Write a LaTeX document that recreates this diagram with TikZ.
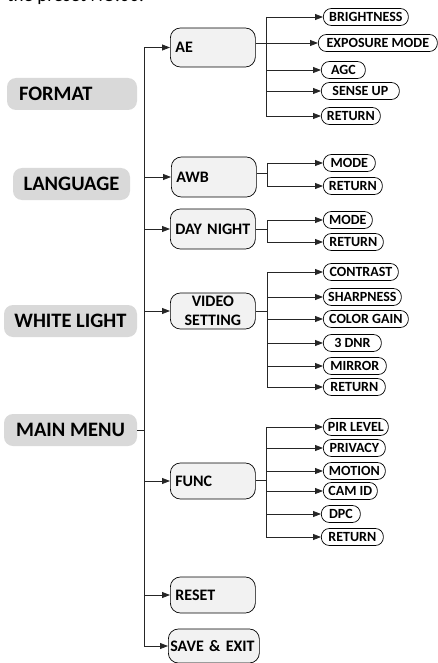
\documentclass[tikz,border=0pt]{standalone}
\usepackage{fontspec}
\setmainfont{Carlito}
\usetikzlibrary{arrows.meta}
\begin{document}
\begin{tikzpicture}[x=1pt,y=-1pt,
 line/.style={draw=black!85, line width=0.8pt},
 arr/.style={line, -{Triangle[length=8pt,width=6pt]}},
 leftbox/.style={fill=black!15, rounded corners=9pt, minimum width=118pt, minimum height=32pt, font=\fontsize{20.5}{23}\selectfont\bfseries, inner sep=0pt},
 midbox/.style={draw=black, line width=0.7pt, fill=black!5, rounded corners=10pt, font=\fontsize{16}{18}\selectfont\bfseries, text width=75pt, inner xsep=5pt, inner ysep=0pt, align=left, minimum height=38pt, anchor=west},
 pill/.style={draw=black, line width=0.7pt, fill=white, rounded corners=8pt, font=\fontsize{14}{15}\selectfont\bfseries, inner xsep=2pt, inner ysep=0pt, minimum height=17pt, anchor=west},
]
\useasboundingbox (0,0) rectangle (438,663);

% clipped top text
\node[anchor=base west, inner sep=0pt, font=\fontsize{19}{21}\selectfont] (toptext) at (7,1.5) {the preset NO.00.};

% left column
\node[leftbox, text width=106pt, inner xsep=12pt, align=left] (format) at (72,94) {FORMAT};
\node[leftbox, minimum width=117pt] (language) at (71.5,184) {LANGUAGE};
\node[leftbox, minimum width=133pt] (white) at (70.5,321) {WHITE LIGHT};
\node[leftbox, minimum width=133pt] (mainmenu) at (70.5,430) {MAIN MENU};

% second level
\node[midbox, minimum height=39pt] (ae) at (170,47.5) {AE};
\node[midbox, minimum height=40pt] (awb) at (171,177) {AWB};
\node[midbox, minimum height=40pt, align=center] (day) at (170,229) {DAY NIGHT};
\node[midbox, minimum height=36pt, align=center, font=\fontsize{16}{18.5}\selectfont\bfseries] (video) at (170,311) {VIDEO\\SETTING};
\node[midbox, minimum height=36pt] (func) at (170,481) {FUNC};
\node[midbox, minimum height=36pt] (reset) at (170,595) {RESET};
\node[midbox, minimum height=34pt, text width=87pt, inner xsep=2pt] (save) at (168,646) {SAVE \& EXIT};

% main trunk
\coordinate (trunk) at (144,47.5);
\coordinate (tb) at (144,646);
\draw[arr] (tb) -- (trunk) -- (ae.west);
\foreach \n in {awb,day,video,func,reset}
  \draw[arr] (trunk |- \n.west) -- (\n.west);
\draw[arr] (tb) -- (save.west);
\draw[line] (mainmenu.east) -- (trunk |- mainmenu.east);

% AE children
\node[pill, minimum width=85pt] (br) at (323,17) {BRIGHTNESS};
\node[pill, minimum width=119pt] (em) at (318,43) {EXPOSURE MODE};
\node[pill, minimum width=44pt] (agc) at (321,70) {AGC};
\node[pill, minimum width=78pt] (su) at (321,91) {SENSE UP};
\node[pill, minimum width=59pt] (aeret) at (321,116) {RETURN};
\coordinate (aesp) at (266,43);
\draw[line] (aesp |- br.west) -- (aesp |- aeret.west);
\draw[arr] (ae.east |- em.west) -- (em.west);
\foreach \n in {br,agc,su,aeret}
  \draw[arr] (aesp |- \n.west) -- (\n.west);

% AWB children
\node[pill, minimum width=52pt] (awbm) at (323,163) {MODE};
\node[pill, minimum width=59pt] (awbr) at (323,186) {RETURN};
\coordinate (awbj) at (267,173);
\draw[line] (awb.east |- awbj) -- (awbj);
\draw[line] (awbj |- awbm.west) -- (awbj |- awbr.west);
\foreach \n in {awbm,awbr}
  \draw[arr] (awbj |- \n.west) -- (\n.west);

% DAY NIGHT children
\node[pill, minimum width=49pt] (dnm) at (323,220) {MODE};
\node[pill, minimum width=60pt] (dnr) at (323,242) {RETURN};
\coordinate (dnj) at (267,229);
\draw[line] (day.east |- dnj) -- (dnj);
\draw[line] (dnj |- dnm.west) -- (dnj |- dnr.west);
\foreach \n in {dnm,dnr}
  \draw[arr] (dnj |- \n.west) -- (\n.west);

% VIDEO SETTING children
\node[pill, minimum width=75pt] (vc) at (323,272) {CONTRAST};
\node[pill, minimum width=78pt] (vs) at (323,297) {SHARPNESS};
\node[pill, minimum width=85pt] (vg) at (323,319) {COLOR GAIN};
\node[pill, minimum width=58pt] (vd) at (323,343) {3 DNR};
\node[pill, minimum width=63pt] (vm) at (323,366) {MIRROR};
\node[pill, minimum width=62pt] (vr) at (323,387) {RETURN};
\coordinate (vj) at (267,311);
\draw[line] (video.east |- vj) -- (vj);
\draw[line] (vj |- vc.west) -- (vj |- vr.west);
\foreach \n in {vc,vs,vg,vd,vm,vr}
  \draw[arr] (vj |- \n.west) -- (\n.west);

% FUNC children
\node[pill, minimum width=65pt] (fp) at (323,427) {PIR LEVEL};
\node[pill, minimum width=62pt] (fv) at (323,448) {PRIVACY};
\node[pill, minimum width=62pt] (fm) at (323,471) {MOTION};
\node[pill, minimum width=54pt] (fc) at (323,491) {CAM ID};
\node[pill, minimum width=39pt] (fd) at (321,514) {DPC};
\node[pill, minimum width=62pt] (fr) at (321,537) {RETURN};
\coordinate (fj) at (266,480);
\draw[line] (func.east |- fj) -- (fj);
\draw[line] (fj |- fp.west) -- (fj |- fr.west);
\foreach \n in {fp,fv,fm,fc,fd,fr}
  \draw[arr] (fj |- \n.west) -- (\n.west);
\end{tikzpicture}
\end{document}
